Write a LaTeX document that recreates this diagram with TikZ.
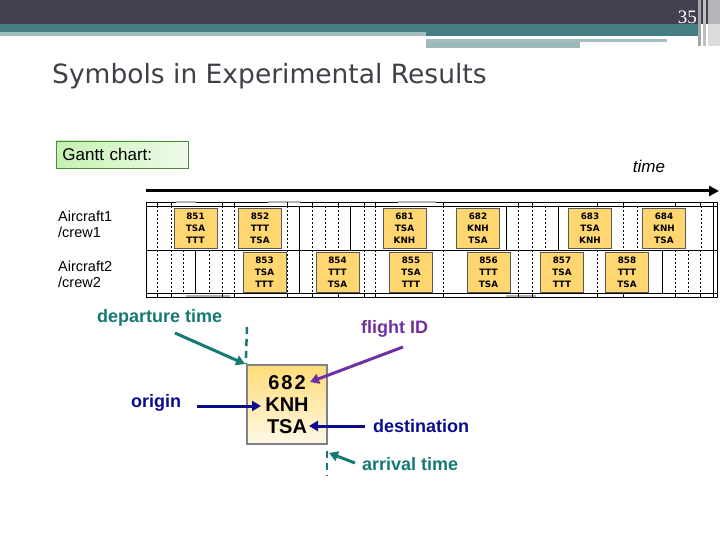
\documentclass[tikz,border=0pt]{standalone}
\usepackage{fontspec}
\setmainfont{Liberation Sans}
\newfontfamily\titlefont{DejaVu Sans}
\newfontfamily\numfont{Liberation Serif}
\usetikzlibrary{positioning,arrows.meta}

\definecolor{slate}{HTML}{41414F}
\definecolor{tealband}{HTML}{457E82}
\definecolor{lightteal}{HTML}{A3BEC0}
\definecolor{titlegrey}{HTML}{3F3F48}
\definecolor{boxgold}{HTML}{FFD670}
\definecolor{ganttleft}{HTML}{C6F1B2}
\definecolor{ganttright}{HTML}{EEFBE8}
\definecolor{ganttborder}{HTML}{4A8A3A}
\definecolor{bigtop}{HTML}{FFDC76}
\definecolor{bigbottom}{HTML}{FFF8E6}
\definecolor{boxgrey}{HTML}{80808C}
\definecolor{depteal}{HTML}{157A74}
\definecolor{navy}{HTML}{0B0B8E}
\definecolor{flightpurple}{HTML}{7030A0}

\tikzset{
  flight/.style={draw=black!65, fill=boxgold, minimum width=43pt, minimum height=40pt,
    inner sep=0pt, align=center, font=\titlefont\bfseries\fontsize{8.8}{12}\selectfont},
  dotline/.style={line width=0.9pt, dash pattern=on 2pt off 2pt},
  solidline/.style={line width=0.9pt},
  pointer/.style={line width=3pt, -{Triangle[length=9pt,width=10pt]}},
  marker/.style={line width=2.5pt, dash pattern=on 7pt off 5pt, depteal},
  label/.style={anchor=west, inner sep=0pt, font=\bfseries\fontsize{18}{20}\selectfont},
}

\begin{document}
\begin{tikzpicture}[x=1pt,y=-1pt]
\useasboundingbox (0,0) rectangle (720,540);

% header bars
\fill[slate] (0,0) rectangle (720,24);
\fill[tealband] (0,24) rectangle (426,32);
\fill[lightteal] (0,32) rectangle (426,36);
\fill[tealband] (426,24) rectangle (700,36);
\fill[lightteal] (426,39) rectangle (667,42);
\fill[lightteal!90!gray] (426,42) rectangle (580,48);
\fill[gray!70] (698,0) rectangle (701,46);
\fill[gray!50] (703,0) rectangle (706,46);
\fill[gray!35,opacity=0.8] (708,0) rectangle (720,46);
\node[font=\numfont\fontsize{19}{19}\selectfont, text=white, anchor=east, inner sep=0pt] (pnum) at (697,17.5) {35};

% title
\node[anchor=base west, inner sep=0pt, text=titlegrey, font=\titlefont\fontsize{26.5}{30}\selectfont] (title) at (52,84) {Symbols in Experimental Results};

% gantt chart heading
\node[draw=ganttborder, line width=0.8pt, left color=ganttleft, right color=ganttright, anchor=west,
  text width=120pt, inner xsep=6pt, minimum height=27pt, align=left,
  font=\fontsize{17}{20}\selectfont] (gantt) at (56,154.5) {Gantt chart:};
\node[font=\itshape\fontsize{17}{20}\selectfont] (time) at (649,166) {time};
\coordinate (t0) at (146,191);
\coordinate (t1) at (719,191);
\draw[line width=3pt, -{Triangle[length=10pt,width=10pt]}] (t0) -- (t1);

% row labels
\node[anchor=west, inner sep=0pt, align=left, font=\fontsize{14.5}{16}\selectfont] (ac1) at (58,224) {Aircraft1\\/crew1};
\node[anchor=west, inner sep=0pt, align=left, font=\fontsize{14.5}{16}\selectfont] (ac2) at (58,274) {Aircraft2\\/crew2};

% chart frame
\draw[line width=0.8pt] (146,202) rectangle (717,297);
\draw[line width=0.6pt] (146,206) -- (717,206);
\draw[line width=0.6pt] (146,293) -- (717,293);
\draw[line width=0.8pt] (146,250) -- (717,250);
\draw[line width=0.8pt] (713,202) -- (713,297);
\fill[gray!60] (176,201) rectangle (196,203);
\fill[gray!60] (268,201) rectangle (300,203);
\fill[gray!60] (398,201) rectangle (436,203);
\fill[gray!60] (186,295) rectangle (230,297);
\fill[gray!60] (506,295) rectangle (536,297);

% grid lines
\foreach \x in {157,171,222,234,287,312,325,338,364,375,443,518,532,545,623,637,701}
  \draw[dotline] (\x,206) -- (\x,250);
\foreach \x in {299,350,506,558}
  \draw[solidline] (\x,206) -- (\x,250);
\foreach \x in {157,171,183,209,222,234,287,312,364,375,443,518,532,597,675,688,700}
  \draw[dotline] (\x,250) -- (\x,293);
\foreach \x in {195,299,662}
  \draw[solidline] (\x,250) -- (\x,293);
\foreach \x in {157,171,222,234,287,312,338,364,375,443,518,532,597,623,675,700}
  \draw[line width=0.6pt] (\x,202) -- (\x,206) (\x,293) -- (\x,297);

% flights
\foreach \x/\id/\from/\to in {195.5/851/TSA/TTT, 260/852/TTT/TSA, 404.5/681/TSA/KNH,
    478/682/KNH/TSA, 590/683/TSA/KNH, 664/684/KNH/TSA}
  \node[flight] (f\id) at (\x,228) {\id\\\from\\\to};
\foreach \x/\id/\from/\to in {264.5/853/TSA/TTT, 337.5/854/TTT/TSA, 411/855/TSA/TTT,
    488.5/856/TTT/TSA, 562/857/TSA/TTT, 627/858/TTT/TSA}
  \node[flight] (f\id) at (\x,272) {\id\\\from\\\to};

% legend box
\node[draw=boxgrey, line width=2.5pt, top color=bigtop, bottom color=bigbottom,
  minimum width=80pt, minimum height=79pt, inner sep=0pt, align=center,
  font=\bfseries\fontsize{20}{22}\selectfont] (big) at (287,404.5) {6\kern2pt8\kern2pt2\\KNH\\TSA};

\node[label, text=depteal] (dep) at (97,318) {departure time};
\node[label, text=flightpurple] (fid) at (361,329) {flight ID};
\node[label, text=navy] (orig) at (131,403) {origin};
\node[label, text=navy] (dest) at (373,426) {destination};
\node[label, text=depteal] (arr) at (362,464) {arrival time};

\coordinate (dtop) at (247,327);
\coordinate (atop) at (327,451);
\coordinate (abot) at (327,476);
\draw[marker] (dtop) -- (big.north west);
\draw[marker] (atop) -- (abot);

\coordinate (depS) at (175,333);
\coordinate (depE) at (245,364);
\coordinate (fidS) at (403,347);
\coordinate (fidE) at (310,382);
\coordinate (origS) at (197,406);
\coordinate (origE) at (261,406);
\coordinate (destS) at (365,426);
\coordinate (destE) at (309,426);
\coordinate (arrS) at (355,463);
\coordinate (arrE) at (329,453);
\draw[pointer, depteal] (depS) -- (depE);
\draw[pointer, flightpurple] (fidS) -- (fidE);
\draw[pointer, navy] (origS) -- (origE);
\draw[pointer, navy] (destS) -- (destE);
\draw[pointer, depteal] (arrS) -- (arrE);
\end{tikzpicture}
\end{document}
